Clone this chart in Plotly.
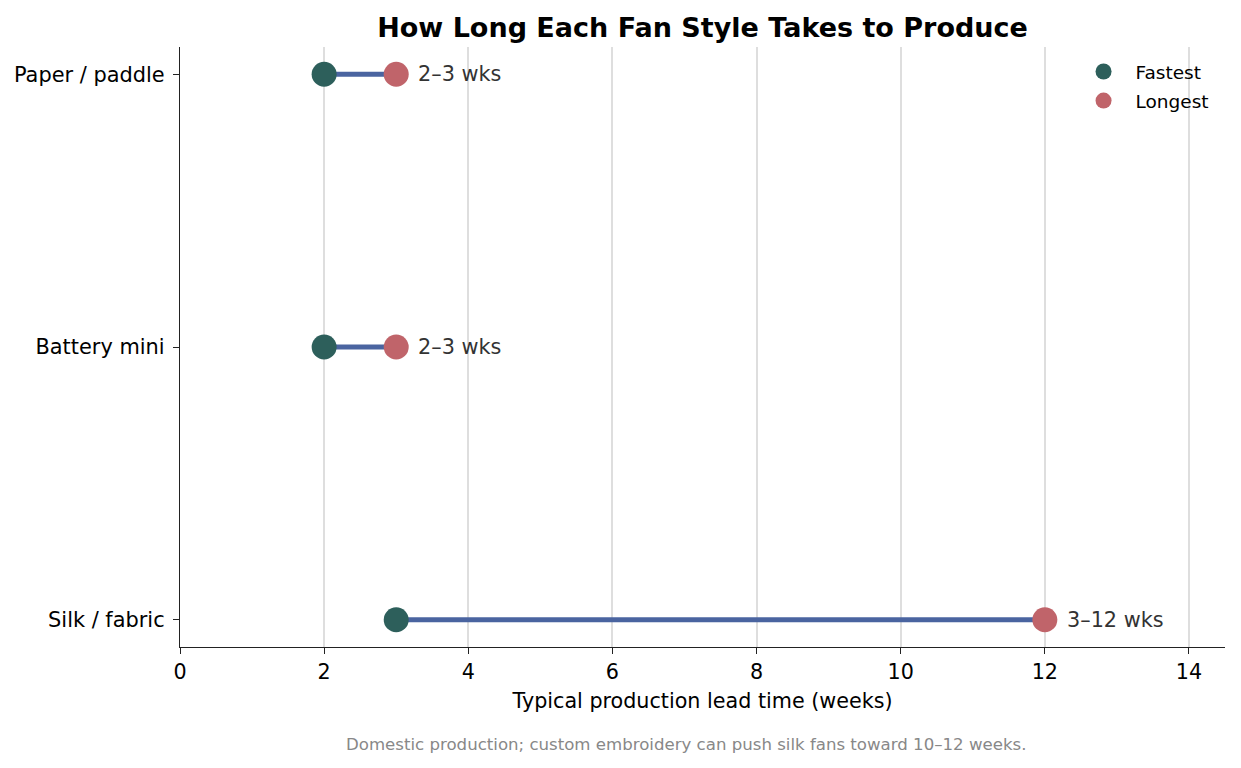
import plotly.graph_objects as go

# Lead time per fan style, in weeks (bottom to top on the chart)
styles = ["Silk / fabric", "Battery mini", "Paper / paddle"]
fastest = [3, 2, 2]
longest = [12, 3, 3]

FONT = "DejaVu Sans"
teal = "#2d5f5b"
rose = "#c0646a"
bar_blue = "#4a64a0"

pos = list(range(len(styles)))

# connecting lines, one segment per style
seg_x, seg_y = [], []
for i in pos:
    seg_x += [fastest[i], longest[i], None]
    seg_y += [i, i, None]

fig = go.Figure()
fig.add_trace(go.Scatter(
    x=seg_x, y=seg_y, mode="lines",
    line=dict(color=bar_blue, width=5),
    showlegend=False, hoverinfo="skip",
))
fig.add_trace(go.Scatter(
    x=fastest, y=pos, mode="markers", name="Fastest", legendgroup="f",
    marker=dict(color=teal, size=25),
))
fig.add_trace(go.Scatter(
    x=longest, y=pos, mode="markers", name="Longest", legendgroup="l",
    marker=dict(color=rose, size=25),
))

# range labels next to the longest dot
for i in pos:
    fig.add_annotation(
        x=longest[i], y=i, text=f"{fastest[i]}\u2013{longest[i]} wks",
        showarrow=False, xanchor="left", xshift=20,
        font=dict(family=FONT, size=20.8, color="#333333"),
    )

fig.add_annotation(
    text="Domestic production; custom embroidery can push silk fans toward 10\u201312 weeks.",
    xref="paper", yref="paper", x=0.484, y=-0.163,
    showarrow=False, xanchor="center", yanchor="middle",
    font=dict(family=FONT, size=16.6, color="#888888"),
)

# the page body adds 8px on the top and left, so the figure is 8px smaller
fig.update_layout(
    width=1233, height=760,
    margin=dict(l=172, r=16, t=39, b=121),
    paper_bgcolor="white", plot_bgcolor="white",
    font=dict(family=FONT, size=21, color="black"),
    title=dict(
        text="<b>How Long Each Fan Style Takes to Produce</b>",
        x=0.5, xref="paper", y=1 - 20 / 760, yref="container",
        xanchor="center", yanchor="middle",
        font=dict(family=FONT, size=27, color="black"),
    ),
    legend=dict(
        x=0.99, y=0.99, xanchor="right", yanchor="top",
        bgcolor="rgba(0,0,0,0)", font=dict(family=FONT, size=18.5),
        tracegroupgap=2, itemwidth=54,
    ),
)

fig.update_xaxes(
    range=[0, 14.5], dtick=2, tick0=0, automargin=False,
    showgrid=True, gridcolor="#dedede", gridwidth=1.5,
    showline=True, linecolor="#222222", linewidth=1.3,
    ticks="outside", ticklen=6, tickcolor="#222222",
    zeroline=False, tickfont=dict(size=20.7),
    title=dict(text="Typical production lead time (weeks)", standoff=10,
               font=dict(size=20.7)),
)
fig.update_yaxes(
    range=[-0.1, 2.1], tickvals=pos, ticktext=styles, automargin=False,
    showgrid=False, zeroline=False, tickfont=dict(size=20.9),
    showline=True, linecolor="#222222", linewidth=1.3,
    ticks="outside", ticklen=6, tickcolor="#222222",
    ticklabelstandoff=4,
)

fig.write_html("out.html")
